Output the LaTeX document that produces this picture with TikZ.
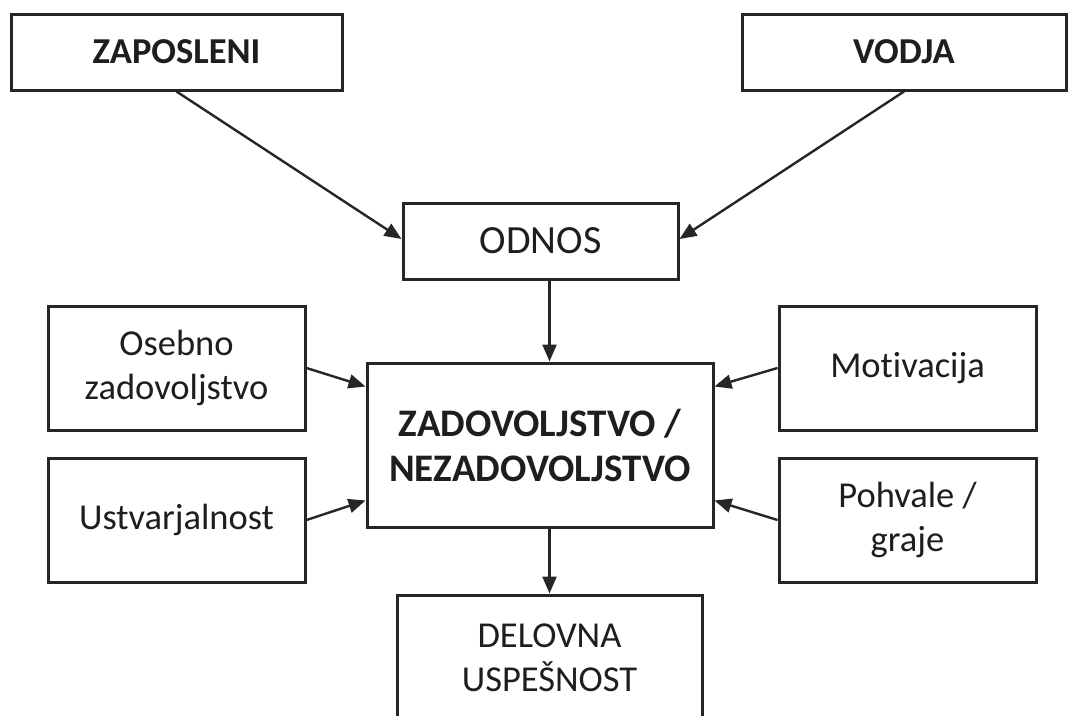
\documentclass[tikz,border=0pt]{standalone}
\usepackage{fontspec}
\setmainfont[Ligatures=NoCommon]{Carlito}
\usetikzlibrary{arrows.meta}
\definecolor{ink}{HTML}{1E1E1E}
\definecolor{edge}{HTML}{262626}
\tikzset{
  box/.style={draw=edge, line width=3pt, fill=white, inner sep=0pt, align=center,
    text=ink, font=\fontsize{36.5}{44}\selectfont},
  bbox/.style={box, font=\fontsize{36.5}{44}\selectfont\bfseries},
  conn/.style={draw=edge, line width=2.4pt, -{Triangle[length=17pt,width=14pt]}}
}
\begin{document}
\begin{tikzpicture}[x=1pt,y=-1pt]
\useasboundingbox (0,0) rectangle (1078,715);
\clip (0,0) rectangle (1078,715);
\fill[white] (0,0) rectangle (1078,715);
\node[bbox, minimum width=331pt, minimum height=76pt] (zap) at (176.5,52) {ZAPOSLENI};
\node[bbox, minimum width=324pt, minimum height=76pt] (vod) at (904,52) {VODJA};
\node[box, minimum width=275pt, minimum height=76pt, font=\fontsize{40}{44}\selectfont] (odn) at (540.5,241) {ODNOS};
\node[bbox, minimum width=346pt, minimum height=164pt, font=\fontsize{39}{45}\selectfont\bfseries] (cen) at (540,445) {ZADOVOLJSTVO /\\NEZADOVOLJSTVO};
\node[box, minimum width=257pt, minimum height=124pt] (ose) at (176.5,368) {Osebno\\zadovoljstvo};
\node[box, minimum width=257pt, minimum height=124pt] (ust) at (176.5,520) {Ustvarjalnost};
\node[box, minimum width=257pt, minimum height=124pt] (mot) at (907.5,368) {Motivacija};
\node[box, minimum width=257pt, minimum height=124pt] (poh) at (907.5,520) {Pohvale /\\graje};
\node[box, minimum width=305pt, minimum height=125pt] (del) at (549.5,657.5) {DELOVNA\\USPEŠNOST};
\draw[conn] (zap.south) -- ([yshift=2pt]odn.west);
\draw[conn] (vod.south) -- ([yshift=2pt]odn.east);
\draw[conn] (odn.south -| del.north) -- (cen.north -| del.north);
\draw[conn] (ose.east) -- ([yshift=-25pt]cen.north west);
\draw[conn] (ust.east) -- ([yshift=28pt]cen.south west);
\draw[conn] (mot.west) -- ([yshift=-25pt]cen.north east);
\draw[conn] (poh.west) -- ([yshift=28pt]cen.south east);
\draw[conn] (cen.south -| del.north) -- (del.north);
\end{tikzpicture}
\end{document}
